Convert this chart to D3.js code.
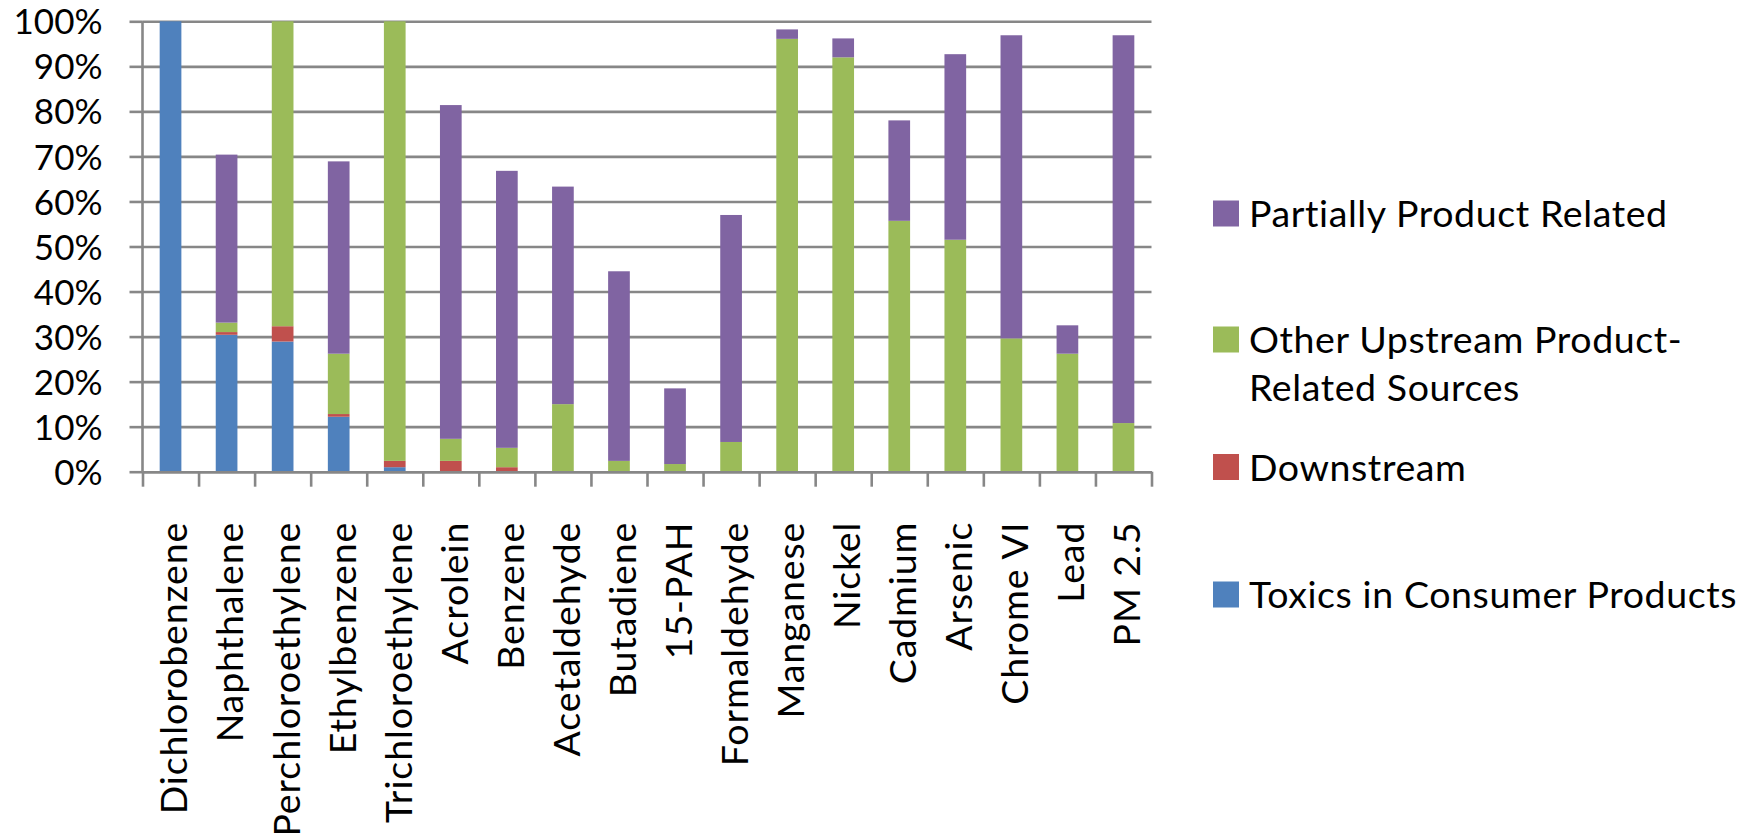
<!DOCTYPE html>
<html>
<head>
<meta charset="utf-8">
<script src="https://cdn.jsdelivr.net/npm/d3@7"></script>
<style>
body { margin:0; background:#ffffff; }
text { font-family: Lato, "Open Sans", sans-serif; fill:#000000; }
</style>
</head>
<body>
<svg id="chart"></svg>
<script>
var categories = ["Dichlorobenzene","Naphthalene","Perchloroethylene","Ethylbenzene",
    "Trichloroethylene","Acrolein","Benzene","Acetaldehyde","Butadiene","15-PAH",
    "Formaldehyde","Manganese","Nickel","Cadmium","Arsenic","Chrome VI","Lead","PM 2.5"];

// percent of each pollutant, bottom segment first
var toxics        = [100, 30.4, 28.9, 12.2, 1.0, 0,    0,    0,    0,    0,    0,    0,    0,    0,    0,    0,    0,    0];
var downstream    = [0,   0.6,  3.4,  0.6,  1.4, 2.4,  1.0,  0,    0,    0,    0,    0,    0,    0,    0,    0,    0,    0];
var otherUpstream = [0,   2.1,  67.7, 13.4, 97.6,4.9,  4.3,  15.0, 2.4,  1.7,  6.6,  96.1, 92.0, 55.7, 51.5, 29.6, 26.2, 10.8];
var partially     = [0,   37.3, 0,    42.7, 0,   74.1, 61.5, 48.3, 42.1, 16.8, 50.4, 2.1,  4.2,  22.3, 41.2, 67.3, 6.3,  86.1];

var seriesKeys = ["toxics","downstream","otherUpstream","partially"];
var seriesColors = ["#4F81BD","#C0504D","#9BBB59","#8064A2"];

// legend is listed top series first
var legendLabels = [
    ["Partially Product Related"],
    ["Other Upstream Product-","Related Sources"],
    ["Downstream"],
    ["Toxics in Consumer Products"]
];
var legendColors = ["#8064A2","#9BBB59","#C0504D","#4F81BD"];

var yTicks = [0,10,20,30,40,50,60,70,80,90,100];

var drawChart = function(target)
{
    var screen = {width:1758, height:840};
    var margins = {top:21.3, left:142.5};
    var graph = {width:1009, height:450.4};

    var svg = d3.select(target)
        .attr("width",screen.width)
        .attr("height",screen.height);

    var rows = categories.map(function(c,i)
    {
        return {cat:c, toxics:toxics[i], downstream:downstream[i],
                otherUpstream:otherUpstream[i], partially:partially[i]};
    });

    var xScale = d3.scaleBand()
        .domain(categories)
        .range([0,graph.width])
        .paddingInner(0.613)
        .paddingOuter(0.3065);

    var edgeScale = d3.scaleLinear()
        .domain([0,categories.length])
        .range([0,graph.width]);

    var yScale = d3.scaleLinear()
        .domain([0,100])
        .range([graph.height,0]);

    var g = svg.append("g")
        .attr("transform","translate("+margins.left+","+margins.top+")");

    //gridlines
    g.append("g")
        .attr("class","grid")
        .call(d3.axisLeft(yScale).tickValues(yTicks).tickSize(-graph.width).tickFormat(""))
        .call(function(a){ a.select(".domain").remove(); })
        .selectAll("line")
        .attr("stroke","#878787")
        .attr("stroke-width",2.6);

    //y axis with labels
    var yAxis = g.append("g")
        .call(d3.axisLeft(yScale).tickValues(yTicks).tickSize(13).tickPadding(27)
              .tickFormat(function(d){ return d+"%"; }));
    yAxis.select(".domain").remove();
    yAxis.selectAll("line").attr("stroke","#878787").attr("stroke-width",2.6);
    yAxis.selectAll("text")
        .attr("font-size","35px")
        .attr("font-family","Lato, sans-serif")
        .attr("fill","#000")
        .attr("dy","0.36em");

    //bars
    var stacked = d3.stack().keys(seriesKeys)(rows);

    g.selectAll("g.series")
        .data(stacked)
        .enter()
        .append("g")
        .classed("series",true)
        .attr("fill",function(d,i){ return seriesColors[i]; })
        .selectAll("rect")
        .data(function(d){ return d; })
        .enter()
        .append("rect")
        .attr("x",function(d){ return xScale(d.data.cat); })
        .attr("y",function(d){ return yScale(d[1]); })
        .attr("width",xScale.bandwidth())
        .attr("height",function(d){ return yScale(d[0]) - yScale(d[1]); });

    //x axis: line and ticks at category edges
    var xAxis = g.append("g")
        .attr("transform","translate(0,"+graph.height+")")
        .call(d3.axisBottom(edgeScale).tickValues(d3.range(categories.length+1))
              .tickSize(15).tickSizeOuter(0).tickFormat(""));
    xAxis.select(".domain").attr("stroke","#878787").attr("stroke-width",2.6);
    xAxis.selectAll("line").attr("stroke","#878787").attr("stroke-width",2.6);

    //y axis line
    g.append("line")
        .attr("x1",0).attr("x2",0)
        .attr("y1",0).attr("y2",graph.height)
        .attr("stroke","#878787")
        .attr("stroke-width",2.6);

    //category labels
    g.append("g")
        .selectAll("text")
        .data(categories)
        .enter()
        .append("text")
        .attr("transform",function(d)
        {
            return "translate("+(xScale(d)+xScale.bandwidth()/2)+","+(graph.height+50)+") rotate(-90)";
        })
        .attr("text-anchor","end")
        .attr("dy","0.45em")
        .attr("font-size","37.5px")
        .attr("letter-spacing","0.9px")
        .text(function(d){ return d; });

    //legend
    var legendY = [213.5,339.5,467,594.5];
    var legend = svg.append("g")
        .selectAll("g")
        .data(legendLabels)
        .enter()
        .append("g")
        .attr("transform",function(d,i){ return "translate(1213,"+legendY[i]+")"; });

    legend.append("rect")
        .attr("x",0)
        .attr("y",-13)
        .attr("width",26)
        .attr("height",26)
        .attr("fill",function(d,i){ return legendColors[i]; });

    legend.append("text")
        .attr("x",36)
        .attr("y",13.5)
        .attr("font-size","37.5px")
        .attr("letter-spacing","0.6px")
        .selectAll("tspan")
        .data(function(d){ return d; })
        .enter()
        .append("tspan")
        .attr("x",36)
        .attr("dy",function(d,i){ return i==0 ? 0 : 48; })
        .text(function(d){ return d; });
}

drawChart("#chart");
</script>
</body>
</html>
